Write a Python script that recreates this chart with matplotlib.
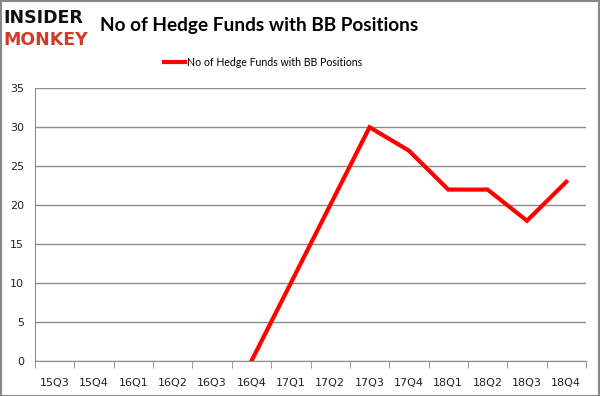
import matplotlib
matplotlib.use("Agg")
import matplotlib.pyplot as plt
import numpy as np

quarters = ["15Q3", "15Q4", "16Q1", "16Q2", "16Q3", "16Q4", "17Q1", "17Q2",
            "17Q3", "17Q4", "18Q1", "18Q2", "18Q3", "18Q4"]
funds = [np.nan, np.nan, np.nan, np.nan, np.nan, 0, 10, 20, 30, 27, 22, 22, 18, 23]
title = "No of Hedge Funds with BB Positions"
yticks = [0, 5, 10, 15, 20, 25, 30, 35]

W, H = 600, 396
fig = plt.figure(figsize=(W / 100, H / 100), dpi=100)
fig.patch.set_facecolor("white")

ax = fig.add_axes([35 / W, 1 - 361 / H, 551 / W, (361 - 88.3) / H])
x = np.arange(len(quarters))
ax.plot(x, funds, color="#ff0000", lw=3, solid_joinstyle="miter", label=title, zorder=3)
ax.set_xlim(-0.5, len(quarters) - 0.5)
ax.set_ylim(0, 35)
ax.set_yticks(yticks)
ax.set_xticks(x)
ax.set_xticklabels(quarters)
ax.set_xticks(np.arange(len(quarters) + 1) - 0.5, minor=True)
ax.tick_params(axis="x", which="major", length=0, pad=12, labelsize=8, colors="#222222")
ax.tick_params(axis="x", which="minor", length=5, color="#888888", direction="out")
ax.tick_params(axis="y", length=0, pad=8, labelsize=8, colors="#222222")
ax.grid(axis="y", color="#8c8c8c", lw=1)
ax.set_axisbelow(True)
for s in ["top", "right"]:
    ax.spines[s].set_visible(False)
ax.spines["left"].set_color("#8c8c8c")
ax.spines["bottom"].set_color("#8c8c8c")

fig.text(100 / W, 1 - 25 / H, title, fontsize=13.7, fontweight="bold",
         family="Lato", va="center", ha="left", color="black")
fig.legend(handles=ax.get_lines(), loc="center", bbox_to_anchor=(263 / W, 1 - 62 / H),
           frameon=False, prop={"family": "Lato", "size": 7.6}, handlelength=2.0, handletextpad=0.1)

fig.text(3 / W, 1 - 18 / H, "INSIDER", fontsize=12.5, fontweight="black",
         family="DejaVu Sans", va="center", ha="left", color="#111111")
fig.text(3 / W, 1 - 40 / H, "MONKEY", fontsize=12.5, fontweight="black",
         family="DejaVu Sans", va="center", ha="left", color="#d13b2a")

border = plt.Rectangle((0.5 / W, 0.5 / H), 1 - 1.5 / W, 1 - 1.5 / H, transform=fig.transFigure,
                       fill=False, edgecolor="#888888", lw=1.5)
fig.patches.append(border)

fig.savefig("out.png", dpi=100, facecolor="white")
